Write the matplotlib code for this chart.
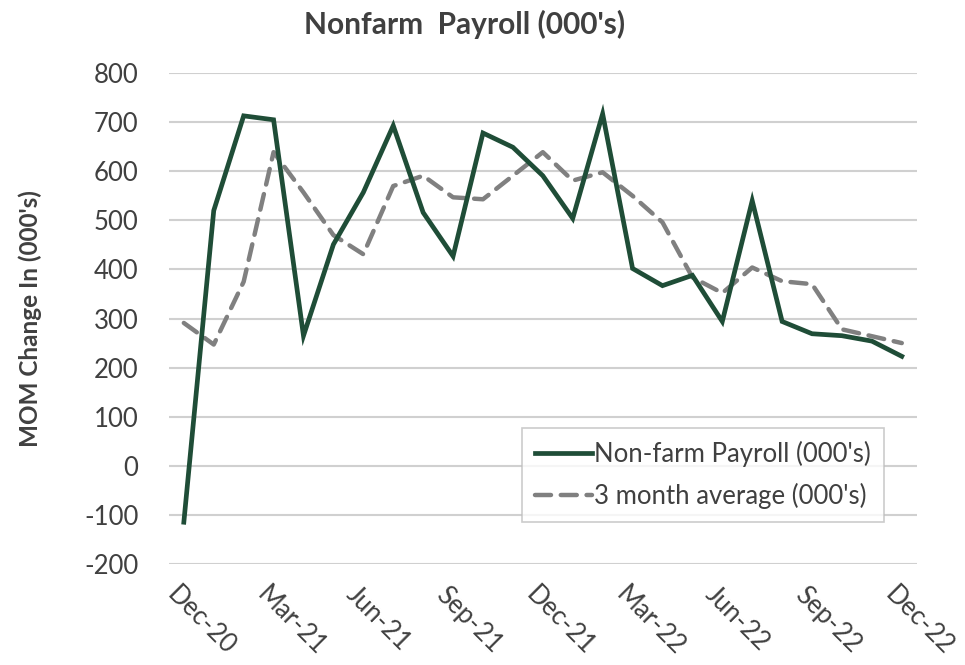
import numpy as np
import matplotlib
matplotlib.use('Agg')
import matplotlib.pyplot as plt
import matplotlib.transforms as mtransforms

# Monthly values (Dec-20 .. Dec-22)
months = ['Dec-20', 'Jan-21', 'Feb-21', 'Mar-21', 'Apr-21', 'May-21', 'Jun-21',
          'Jul-21', 'Aug-21', 'Sep-21', 'Oct-21', 'Nov-21', 'Dec-21', 'Jan-22',
          'Feb-22', 'Mar-22', 'Apr-22', 'May-22', 'Jun-22', 'Jul-22', 'Aug-22',
          'Sep-22', 'Oct-22', 'Nov-22', 'Dec-22']
payroll = [-115, 520, 713, 705, 265, 451, 557, 693, 516, 427, 678, 649, 591,
           504, 717, 402, 367, 388, 294, 540, 294, 269, 265, 254, 223]
avg_3m = [291, 247, 375, 639, 557, 470, 431, 570, 591, 547, 543, 591, 639,
          581, 598, 550, 496, 384, 352, 404, 376, 370, 278, 264, 250]
yticks = [-200, -100, 0, 100, 200, 300, 400, 500, 600, 700, 800]

plt.rcParams['font.family'] = ['Lato', 'DejaVu Sans']
plt.rcParams['axes.unicode_minus'] = False
text_color = '#404040'

fig = plt.figure(figsize=(9.65, 6.65), dpi=100)
ax = fig.add_axes([0.175, 0.152, 0.775, 0.738])

x = np.arange(len(months))
ax.plot(x, payroll, color='#1f4d37', lw=3.4, solid_joinstyle='miter',
        label="Non-farm Payroll (000's)", zorder=3)
ax.plot(x, avg_3m, color='#808080', lw=3.2, dashes=(3.6, 2.2),
        dash_capstyle='round', label="3 month average (000's)", zorder=2)

ax.set_xlim(-0.5, len(months) - 0.5)
ax.set_ylim(-200, 800)
ax.set_yticks(yticks)
ax.yaxis.grid(True, color='#d0d0d0', lw=1.5)
ax.set_axisbelow(True)
for s in ax.spines.values():
    s.set_visible(False)
ax.tick_params(axis='both', length=0, labelsize=18.5, labelcolor=text_color)
ax.tick_params(axis='y', pad=22)

ax.set_xticks(x[::3])
ax.set_xticklabels(months[::3], rotation=-45, ha='left', va='center',
                   rotation_mode='anchor')
offset = mtransforms.ScaledTranslation(-0.13, -0.22, fig.dpi_scale_trans)
for lbl in ax.get_xticklabels():
    lbl.set_transform(lbl.get_transform() + offset)

ax.set_ylabel("MOM Change In (000's)", fontsize=17.5, fontweight='bold',
              color=text_color, labelpad=30)
fig.suptitle("Nonfarm  Payroll (000's)", x=465 / 965, y=0.985, va='top',
             fontsize=21.5, fontweight='bold', color=text_color)

leg = ax.legend(loc='lower right', bbox_to_anchor=(0.956, 0.086), fontsize=18.5,
                frameon=True, fancybox=False, handlelength=2.2,
                handletextpad=0.1, borderpad=0.5, labelspacing=0.6,
                borderaxespad=0)
leg.get_frame().set_edgecolor('#bfbfbf')
leg.get_frame().set_linewidth(1.2)
for t in leg.get_texts():
    t.set_color(text_color)

fig.savefig('out.png', dpi=100, facecolor='white')
